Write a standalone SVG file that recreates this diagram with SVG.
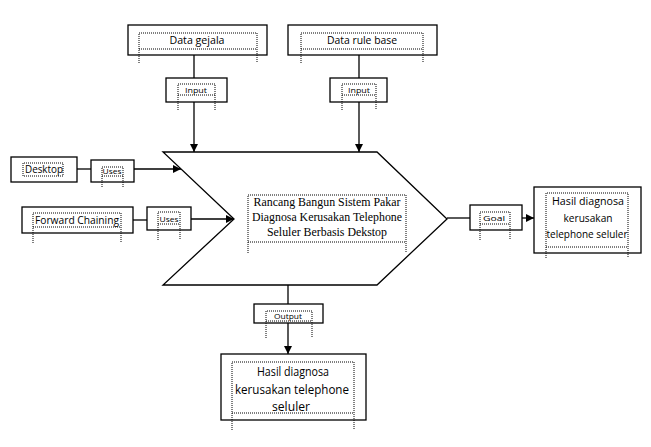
<svg xmlns="http://www.w3.org/2000/svg" width="651" height="447" viewBox="0 0 651 447">
<defs>
<marker id="ah" viewBox="0 0 10 10" refX="10" refY="5" markerWidth="8" markerHeight="8" markerUnits="userSpaceOnUse" orient="auto">
<path d="M0,0 L10,5 L0,10 z" fill="#000"/>
</marker>
<style>
.box{fill:#fff;stroke:#000;stroke-width:1.3}
.dot{fill:none;stroke:#000;stroke-width:1;stroke-dasharray:1 1}
.ln{fill:none;stroke:#000;stroke-width:1.3}
.t{font-family:"Open Sans","Noto Sans","DejaVu Sans",sans-serif;font-size:11px;fill:#000;text-anchor:middle}
.s{font-family:"Open Sans","Noto Sans","DejaVu Sans",sans-serif;font-size:8px;fill:#000;text-anchor:middle}
.b{font-size:12px}
.ser{font-family:"Liberation Serif","Times New Roman",serif;font-size:13.5px;fill:#000;text-anchor:middle}
</style>
</defs>
<rect width="651" height="447" fill="#fff"/>
<g id="connectors">
<line class="ln" x1="194" y1="55" x2="194" y2="78"/>
<line class="ln" x1="194" y1="102" x2="194" y2="152" marker-end="url(#ah)"/>
<line class="ln" x1="359" y1="55" x2="359" y2="78"/>
<line class="ln" x1="359" y1="102" x2="359" y2="152" marker-end="url(#ah)"/>
<line class="ln" x1="77" y1="169" x2="91" y2="169"/>
<line class="ln" x1="134" y1="169" x2="181" y2="169" marker-end="url(#ah)"/>
<line class="ln" x1="133" y1="220" x2="147" y2="220"/>
<line class="ln" x1="191" y1="219" x2="234" y2="219" marker-end="url(#ah)"/>
<line class="ln" x1="447" y1="218" x2="470" y2="218"/>
<line class="ln" x1="522" y1="218" x2="534" y2="218" marker-end="url(#ah)"/>
<line class="ln" x1="288" y1="285" x2="288" y2="304"/>
<line class="ln" x1="288" y1="323" x2="288" y2="354" marker-end="url(#ah)"/>
</g>
<g id="chevron">
<polygon class="box" points="163,152 377,152 447,219 377,285 163,285 234,219"/>
<path class="dot" d="M248,253 V195 H406 V253 M248,242 H406"/>
<text class="ser" x="327" y="206" textLength="147" lengthAdjust="spacingAndGlyphs">Rancang Bangun Sistem Pakar</text>
<text class="ser" x="327" y="221" textLength="150" lengthAdjust="spacingAndGlyphs">Diagnosa Kerusakan Telephone</text>
<text class="ser" x="327" y="236" textLength="120" lengthAdjust="spacingAndGlyphs">Seluler Berbasis Dekstop</text>
</g>
<g id="data-gejala">
<rect class="box" x="128" y="25" width="139" height="30"/>
<path class="dot" d="M139,63 V33 H257 V63 M139,49 H257"/>
<text class="t" x="197" y="44" textLength="55" lengthAdjust="spacingAndGlyphs">Data gejala</text>
</g>
<g id="input1">
<rect class="box" x="166" y="78" width="61" height="24"/>
<path class="dot" d="M178,110 V84 H215 V110 M178,95 H215"/>
<text class="s" x="196" y="93" textLength="22" lengthAdjust="spacingAndGlyphs">Input</text>
</g>
<g id="data-rule-base">
<rect class="box" x="288" y="25" width="149" height="30"/>
<path class="dot" d="M301,63 V33 H423 V63 M301,49 H423"/>
<text class="t" x="362" y="44" textLength="70" lengthAdjust="spacingAndGlyphs">Data rule base</text>
</g>
<g id="input2">
<rect class="box" x="330" y="78" width="57" height="24"/>
<path class="dot" d="M342,110 V84 H376 V110 M342,95 H376"/>
<text class="s" x="359" y="93" textLength="22" lengthAdjust="spacingAndGlyphs">Input</text>
</g>
<g id="desktop">
<rect class="box" x="11" y="157" width="66" height="25"/>
<path class="dot" d="M23,176 V163 H63 V176 Z"/>
<text class="t" x="44" y="173" textLength="38" lengthAdjust="spacingAndGlyphs">Desktop</text>
</g>
<g id="uses1">
<rect class="box" x="91" y="160" width="43" height="22"/>
<path class="dot" d="M102,187 V167 H123 V187 M102,176 H123"/>
<text class="s" x="112" y="174" textLength="19" lengthAdjust="spacingAndGlyphs">Uses</text>
</g>
<g id="forward-chaining">
<rect class="box" x="22" y="207" width="111" height="26"/>
<path class="dot" d="M33,243 V213 H121 V243 M33,227 H121"/>
<text class="t" x="77" y="224" textLength="84" lengthAdjust="spacingAndGlyphs">Forward Chaining</text>
</g>
<g id="uses2">
<rect class="box" x="147" y="207" width="44" height="23"/>
<path class="dot" d="M158,240 V212 H180 V240 M158,224 H180"/>
<text class="s" x="169" y="222" textLength="19" lengthAdjust="spacingAndGlyphs">Uses</text>
</g>
<g id="goal">
<rect class="box" x="470" y="205" width="52" height="25"/>
<path class="dot" d="M480,240 V212 H510 V240 M480,224 H510"/>
<text class="s" x="494" y="221" textLength="22" lengthAdjust="spacingAndGlyphs">Goal</text>
</g>
<g id="hasil-kanan">
<rect class="box" x="534" y="187" width="107" height="66"/>
<path class="dot" d="M546,258 V193 H628 V258 M546,247 H628"/>
<text class="t" x="588" y="205" textLength="72" lengthAdjust="spacingAndGlyphs">Hasil diagnosa</text>
<text class="t" x="588" y="222" textLength="49" lengthAdjust="spacingAndGlyphs">kerusakan</text>
<text class="t" x="587" y="238" textLength="81" lengthAdjust="spacingAndGlyphs">telephone seluler</text>
</g>
<g id="output">
<rect class="box" x="254" y="304" width="69" height="19"/>
<path class="dot" d="M266,338 V311 H312 V338 M266,321 H312"/>
<text class="s" x="288" y="319" textLength="28" lengthAdjust="spacingAndGlyphs">Output</text>
</g>
<g id="hasil-bawah">
<rect class="box" x="221" y="354" width="145" height="66"/>
<path class="dot" d="M232,430 V362 H354 V430 M232,413 H354"/>
<text class="t b" x="293" y="376" textLength="72" lengthAdjust="spacingAndGlyphs">Hasil diagnosa</text>
<text class="t b" x="292" y="394" textLength="114" lengthAdjust="spacingAndGlyphs">kerusakan telephone</text>
<text class="t b" x="291" y="411" textLength="38" lengthAdjust="spacingAndGlyphs">seluler</text>
</g>
</svg>
